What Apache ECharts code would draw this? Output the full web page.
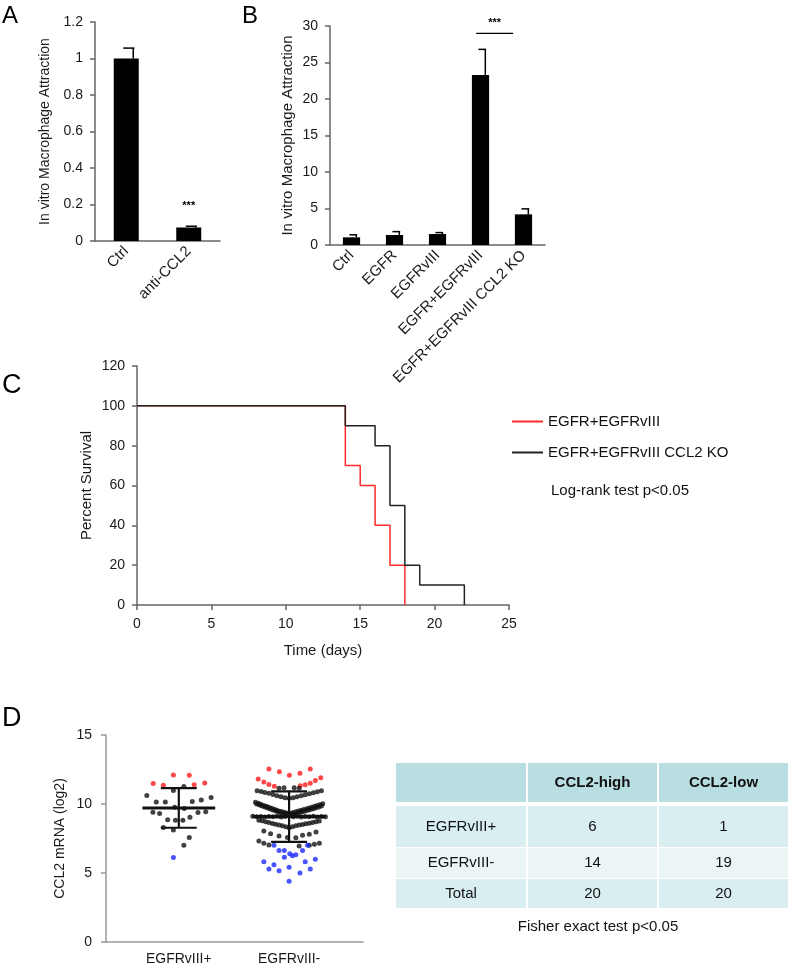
<!DOCTYPE html>
<html><head><meta charset="utf-8">
<script src="https://cdn.jsdelivr.net/npm/echarts@6/dist/echarts.min.js"></script>
<style>html,body{margin:0;padding:0;background:#fff}#c{width:800px;height:966px}</style>
</head><body><div id="c"></div>
<script>
const FONT = "'Liberation Sans', Arial, Helvetica, sans-serif";

// ---------- Panel A ----------
const catsA = ['Ctrl', 'anti-CCL2'];
const valsA = [1.0, 0.074];
const errTopA = [1.057, 0.081];
const sigA = [[1, 0.19, '***']];

// ---------- Panel B ----------
const catsB = ['Ctrl', 'EGFR', 'EGFRvIII', 'EGFR+EGFRvIII', 'EGFR+EGFRvIII CCL2 KO'];
const valsB = [1.05, 1.37, 1.5, 23.3, 4.2];
const errTopB = [1.4, 1.83, 1.7, 26.8, 4.95];
const sigB = [[3, 4, 29.0, 30.4, '***']];

// ---------- Panel C ----------
const survNameRed = 'EGFR+EGFRvIII';
const survNameBlack = 'EGFR+EGFRvIII CCL2 KO';
const survRed = [[0, 100], [14, 70], [15, 60], [16, 40], [17, 20], [18, 0]];
const survBlack = [[0, 100], [14, 90], [16, 80], [17, 50], [18, 20], [19, 10], [22, 0]];
const survNote = 'Log-rank test p<0.05';

// ---------- Panel D ----------
const groupsD = ['EGFRvIII+', 'EGFRvIII-'];
// [offset within group, CCL2 log2 value]
const g1Red = [[-0.232, 11.48], [-0.140, 11.36], [-0.049, 12.1], [0.095, 12.08], [0.140, 11.39], [0.235, 11.53]];
const g1Black = [[-0.049, 10.98], [0.046, 11.27], [-0.290, 10.62], [-0.204, 10.14], [-0.122, 10.14], [-0.037, 9.76],
  [0.049, 9.67], [0.122, 10.19], [0.204, 10.29], [0.293, 10.48], [-0.235, 9.40], [-0.174, 9.31], [-0.101, 8.85],
  [-0.030, 8.83], [0.037, 8.83], [0.101, 9.04], [0.174, 9.38], [0.244, 9.43], [-0.140, 8.30], [-0.049, 8.11],
  [0.095, 7.58], [0.046, 7.01]];
const g1Blue = [[-0.049, 6.12]];
const g2Red = [[-0.183, 12.54], [-0.088, 12.34], [0.003, 12.08], [0.098, 12.22], [0.192, 12.54],
  [-0.280, 11.82], [-0.229, 11.60], [-0.183, 11.41], [-0.134, 11.29], [0.101, 11.32], [0.146, 11.39],
  [0.192, 11.51], [0.238, 11.70], [0.287, 11.91]];
const g2Black = [
  [-0.091, 11.15], [-0.046, 11.18], [0.046, 11.18], [0.091, 11.15],
  [-0.290, 10.96], [-0.253, 10.91], [-0.220, 10.84], [-0.183, 10.77], [-0.146, 10.69], [-0.110, 10.60], [-0.073, 10.53], [-0.037, 10.45], [0, 10.41],
  [0.037, 10.45], [0.073, 10.53], [0.110, 10.60], [0.146, 10.67], [0.183, 10.74], [0.220, 10.81], [0.256, 10.89], [0.293, 10.96],
  [-0.305, 10.12], [-0.280, 10.05], [-0.256, 9.98], [-0.232, 9.90], [-0.207, 9.83], [-0.183, 9.76], [-0.159, 9.69], [-0.134, 9.62], [-0.110, 9.55], [-0.085, 9.47], [-0.061, 9.43], [-0.037, 9.38], [-0.012, 9.33],
  [-0.293, 10.00], [-0.268, 9.93], [-0.244, 9.86], [-0.220, 9.78], [-0.195, 9.71], [-0.171, 9.64], [-0.146, 9.57], [-0.122, 9.50], [-0.098, 9.43], [-0.073, 9.35], [-0.049, 9.31], [-0.024, 9.26],
  [0.012, 9.33], [0.037, 9.38], [0.061, 9.43], [0.085, 9.49], [0.110, 9.54], [0.134, 9.60], [0.159, 9.65], [0.183, 9.71], [0.207, 9.77], [0.232, 9.83], [0.256, 9.89], [0.280, 9.95], [0.305, 10.01],
  [0.024, 9.24], [0.049, 9.28], [0.073, 9.33], [0.098, 9.38], [0.122, 9.43], [0.146, 9.49], [0.171, 9.54], [0.195, 9.60], [0.220, 9.66], [0.244, 9.72], [0.268, 9.78], [0.293, 9.85],
  [-0.329, 9.12], [-0.293, 9.08], [-0.256, 9.10], [-0.220, 9.06], [-0.183, 9.10], [-0.146, 9.07], [-0.110, 9.12], [-0.073, 9.05], [-0.037, 9.10],
  [0.037, 9.08], [0.073, 9.12], [0.110, 9.06], [0.146, 9.10], [0.183, 9.07], [0.220, 9.11], [0.256, 9.06], [0.293, 9.10], [0.329, 9.08],
  [-0.274, 8.83], [-0.244, 8.78], [-0.213, 8.71], [-0.183, 8.66], [-0.152, 8.59], [-0.122, 8.54], [-0.091, 8.47], [-0.061, 8.42], [-0.030, 8.35], [0, 8.28],
  [0.030, 8.35], [0.061, 8.42], [0.091, 8.47], [0.122, 8.52], [0.152, 8.56], [0.183, 8.61], [0.213, 8.66], [0.244, 8.71], [0.274, 8.76],
  [-0.229, 8.04], [-0.168, 7.85], [-0.091, 7.68], [-0.015, 7.58], [0.061, 7.56], [0.122, 7.73], [0.183, 7.80], [0.244, 7.97],
  [-0.274, 7.32], [-0.229, 7.15], [-0.183, 7.03], [0.091, 6.96], [0.183, 7.01], [0.229, 7.08], [0.274, 7.15]];
const g2Blue = [[-0.137, 7.01], [0.168, 7.01], [-0.091, 6.63], [-0.043, 6.63], [0.122, 6.63], [0.006, 6.39], [0.061, 6.32],
  [-0.043, 6.15], [0.030, 6.25], [-0.229, 5.81], [-0.137, 5.60], [0.146, 5.81], [0.238, 6.00], [-0.183, 5.29],
  [-0.091, 5.17], [0, 5.41], [0.098, 5.00], [0.192, 5.29], [0, 4.40]];
const meanD = [9.71, 9.09];
const sdHiD = [11.15, 10.91];
const sdLoD = [8.28, 7.25];

// ---------- Table ----------
const tableHeader = ['', 'CCL2-high', 'CCL2-low'];
const tableRows = [['EGFRvIII+', '6', '1'], ['EGFRvIII-', '14', '19'], ['Total', '20', '20']];
const tableNote = 'Fisher exact test p<0.05';

// ---------- helpers ----------
const axisText = {color: '#1a1a1a', fontSize: 14, fontFamily: FONT};
const darkLine = {lineStyle: {color: '#666', width: 1.5}};
const lightLine = {lineStyle: {color: '#999', width: 1.5}};

function errRender(params, api) {
  const i = api.value(0);
  const p0 = api.coord([i, api.value(1)]);
  const p1 = api.coord([i, api.value(2)]);
  const bw = api.size([1, 0])[0] * 0.4;
  const xv = p0[0] + bw * 0.28;
  return {type: 'group', children: [
    {type: 'line', shape: {x1: xv, y1: p0[1], x2: xv, y2: p1[1]}, style: {stroke: '#000', lineWidth: 1.5}},
    {type: 'line', shape: {x1: xv - bw * 0.4, y1: p1[1], x2: xv + bw * 0.05, y2: p1[1]}, style: {stroke: '#000', lineWidth: 1.5}}
  ]};
}
function starRender(params, api) {
  const p = api.coord([api.value(0), api.value(1)]);
  return {type: 'text', x: p[0], y: p[1], style: {text: '***', fill: '#000', font: 'bold 11px ' + FONT, align: 'center', verticalAlign: 'middle'}};
}
function bracketRender(params, api) {
  const band = api.size([1, 0])[0];
  const a = api.coord([api.value(0), api.value(2)]);
  const b = api.coord([api.value(1), api.value(2)]);
  const t = api.coord([api.value(0), api.value(3)]);
  const x1 = a[0] - band * 0.1, x2 = b[0] - band * 0.24;
  return {type: 'group', children: [
    {type: 'line', shape: {x1: x1, y1: a[1], x2: x2, y2: a[1]}, style: {stroke: '#000', lineWidth: 1.2}},
    {type: 'text', x: (x1 + x2) / 2, y: t[1], style: {text: '***', fill: '#000', font: 'bold 11px ' + FONT, align: 'center', verticalAlign: 'middle'}}
  ]};
}
function meanSdRender(params, api) {
  const g = api.value(0), m = api.value(1), hi = api.value(2), lo = api.value(3);
  const ml = api.coord([g - 0.33, m]), mr = api.coord([g + 0.33, m]);
  const hl = api.coord([g - 0.163, hi]), hr = api.coord([g + 0.163, hi]);
  const ll = api.coord([g - 0.163, lo]), lr = api.coord([g + 0.163, lo]);
  const vt = api.coord([g, hi]), vb = api.coord([g, lo]);
  const st = (w) => ({stroke: '#111', lineWidth: w});
  return {type: 'group', children: [
    {type: 'line', shape: {x1: vt[0], y1: vt[1], x2: vb[0], y2: vb[1]}, style: st(2.2)},
    {type: 'line', shape: {x1: hl[0], y1: hl[1], x2: hr[0], y2: hr[1]}, style: st(2.2)},
    {type: 'line', shape: {x1: ll[0], y1: ll[1], x2: lr[0], y2: lr[1]}, style: st(2.2)},
    {type: 'line', shape: {x1: ml[0], y1: ml[1], x2: mr[0], y2: mr[1]}, style: st(3)}
  ]};
}
const place = (arr, g) => arr.map(d => [g + d[0], d[1]]);

// ---------- table graphic ----------
const colX = [396, 528, 659], colW = [130, 129, 129];
const rowY = [763, 806, 848, 879], rowH = [39, 41, 30, 29];
const rowFill = ['#b8dee1', '#d9eef0', '#ebf5f6', '#d9eef0'];
const tableEls = [];
[tableHeader].concat(tableRows).forEach((row, r) => {
  row.forEach((txt, c) => {
    tableEls.push({type: 'rect', shape: {x: colX[c], y: rowY[r], width: colW[c], height: rowH[r]}, style: {fill: rowFill[r]}});
    if (txt !== '') {
      tableEls.push({type: 'text', x: colX[c] + colW[c] / 2, y: rowY[r] + rowH[r] / 2,
        style: {text: txt, fill: '#111', font: (r === 0 ? 'bold ' : '') + '15px ' + FONT, align: 'center', verticalAlign: 'middle'}});
    }
  });
});
tableEls.push({type: 'text', x: 598, y: 927, style: {text: tableNote, fill: '#111', font: '15px ' + FONT, align: 'center', verticalAlign: 'middle'}});

const letter = (t, x, y, s) => ({type: 'text', x: x, y: y, style: {text: t, fill: '#000', font: s + 'px ' + FONT}});

const chart = echarts.init(document.getElementById('c'), null, {renderer: 'canvas'});
chart.setOption({
  backgroundColor: '#fff',
  animation: false,
  textStyle: {fontFamily: FONT},
  grid: [
    {left: 95, top: 22, width: 125, height: 219},
    {left: 330, top: 26, width: 215, height: 219},
    {left: 137, top: 366, width: 372, height: 239},
    {left: 106, top: 735, width: 257, height: 207}
  ],
  xAxis: [
    {gridIndex: 0, type: 'category', data: catsA, axisLine: darkLine, axisTick: {show: false},
      axisLabel: Object.assign({rotate: 45, margin: 8, interval: 0}, axisText, {fontSize: 15})},
    {gridIndex: 1, type: 'category', data: catsB, axisLine: darkLine, axisTick: {show: false},
      axisLabel: Object.assign({rotate: 45, margin: 8, interval: 0}, axisText, {fontSize: 15})},
    {gridIndex: 2, type: 'value', min: 0, max: 25, interval: 5, splitLine: {show: false}, axisLine: darkLine,
      axisTick: {show: true, length: 5, lineStyle: {color: '#666', width: 1.5}},
      axisLabel: Object.assign({margin: 12}, axisText),
      name: 'Time (days)', nameLocation: 'middle', nameGap: 38, nameTextStyle: {color: '#1a1a1a', fontSize: 15, fontFamily: FONT}},
    {gridIndex: 3, type: 'value', min: 0.34, max: 2.67, splitLine: {show: false}, axisLine: lightLine,
      axisTick: {show: false},
      axisLabel: Object.assign({margin: 10, customValues: [1, 2], formatter: v => groupsD[Math.round(v) - 1] || ''}, axisText)}
  ],
  yAxis: [
    {gridIndex: 0, type: 'value', min: 0, max: 1.2, interval: 0.2, splitLine: {show: false}, axisLine: Object.assign({show: true}, darkLine),
      axisTick: {show: true, length: 5, lineStyle: {color: '#666', width: 1.5}}, axisLabel: Object.assign({margin: 12}, axisText),
      name: 'In vitro Macrophage Attraction', nameLocation: 'middle', nameRotate: 90, nameGap: 43,
      nameTextStyle: {color: '#1a1a1a', fontSize: 14, fontFamily: FONT}},
    {gridIndex: 1, type: 'value', min: 0, max: 30, interval: 5, splitLine: {show: false}, axisLine: Object.assign({show: true}, darkLine),
      axisTick: {show: true, length: 5, lineStyle: {color: '#666', width: 1.5}}, axisLabel: Object.assign({margin: 12}, axisText),
      name: 'In vitro Macrophage Attraction', nameLocation: 'middle', nameRotate: 90, nameGap: 35,
      nameTextStyle: {color: '#1a1a1a', fontSize: 15, fontFamily: FONT}},
    {gridIndex: 2, type: 'value', min: 0, max: 120, interval: 20, splitLine: {show: false}, axisLine: Object.assign({show: true}, darkLine),
      axisTick: {show: true, length: 5, lineStyle: {color: '#666', width: 1.5}}, axisLabel: Object.assign({margin: 12}, axisText),
      name: 'Percent Survival', nameLocation: 'middle', nameRotate: 90, nameGap: 43,
      nameTextStyle: {color: '#1a1a1a', fontSize: 15, fontFamily: FONT}},
    {gridIndex: 3, type: 'value', min: 0, max: 15, interval: 5, splitLine: {show: false}, axisLine: Object.assign({show: true}, lightLine),
      axisTick: {show: true, length: 5, lineStyle: {color: '#999', width: 1.5}}, axisLabel: Object.assign({margin: 14}, axisText),
      name: 'CCL2 mRNA (log2)', nameLocation: 'middle', nameRotate: 90, nameGap: 39,
      nameTextStyle: {color: '#1a1a1a', fontSize: 14, fontFamily: FONT}}
  ],
  legend: {
    data: [survNameRed, survNameBlack], orient: 'vertical', left: 507, top: 409, padding: 5, itemWidth: 31, itemHeight: 2,
    itemGap: 16, icon: 'rect', textStyle: {color: '#111', fontSize: 15, fontFamily: FONT}, selectedMode: false
  },
  graphic: [
    letter('A', 2, 4, 24), letter('B', 242, 4, 24), letter('C', 2, 372, 27), letter('D', 2, 705, 27),
    {type: 'text', x: 551, y: 491, style: {text: survNote, fill: '#111', font: '15px ' + FONT, verticalAlign: 'middle'}},
    {type: 'group', children: tableEls}
  ],
  series: [
    {type: 'bar', xAxisIndex: 0, yAxisIndex: 0, data: valsA, barWidth: '40%', itemStyle: {color: '#000'}},
    {type: 'custom', xAxisIndex: 0, yAxisIndex: 0, renderItem: errRender, encode: {x: 0, y: [1, 2]},
      data: catsA.map((c, i) => [i, valsA[i], errTopA[i]]), z: 5},
    {type: 'custom', xAxisIndex: 0, yAxisIndex: 0, renderItem: starRender, encode: {x: 0, y: 1}, data: sigA.map(s => [s[0], s[1]]), z: 5},
    {type: 'bar', xAxisIndex: 1, yAxisIndex: 1, data: valsB, barWidth: '40%', itemStyle: {color: '#000'}},
    {type: 'custom', xAxisIndex: 1, yAxisIndex: 1, renderItem: errRender, encode: {x: 0, y: [1, 2]},
      data: catsB.map((c, i) => [i, valsB[i], errTopB[i]]), z: 5},
    {type: 'custom', xAxisIndex: 1, yAxisIndex: 1, renderItem: bracketRender, encode: {x: 0, y: 2},
      data: sigB.map(s => [s[0], s[1], s[2], s[3]]), z: 5},
    {name: survNameRed, type: 'line', xAxisIndex: 2, yAxisIndex: 2, data: survRed, step: 'end', showSymbol: false,
      lineStyle: {color: '#ff2a2a', width: 1.5}, itemStyle: {color: '#ff2a2a'}, z: 2},
    {name: survNameBlack, type: 'line', xAxisIndex: 2, yAxisIndex: 2, data: survBlack, step: 'end', showSymbol: false,
      lineStyle: {color: '#222', width: 1.5}, itemStyle: {color: '#222'}, z: 3},
    {type: 'scatter', xAxisIndex: 3, yAxisIndex: 3, symbolSize: 5, itemStyle: {color: '#ff1a1a'},
      data: place(g1Red, 1).concat(place(g2Red, 2))},
    {type: 'scatter', xAxisIndex: 3, yAxisIndex: 3, symbolSize: 5, itemStyle: {color: '#111'},
      data: place(g1Black, 1).concat(place(g2Black, 2))},
    {type: 'scatter', xAxisIndex: 3, yAxisIndex: 3, symbolSize: 5, itemStyle: {color: '#1a2aff'},
      data: place(g1Blue, 1).concat(place(g2Blue, 2))},
    {type: 'custom', xAxisIndex: 3, yAxisIndex: 3, renderItem: meanSdRender, encode: {x: 0, y: [1, 2, 3]},
      data: meanD.map((m, i) => [i + 1, m, sdHiD[i], sdLoD[i]]), z: 6}
  ]
});
</script>
</body></html>
